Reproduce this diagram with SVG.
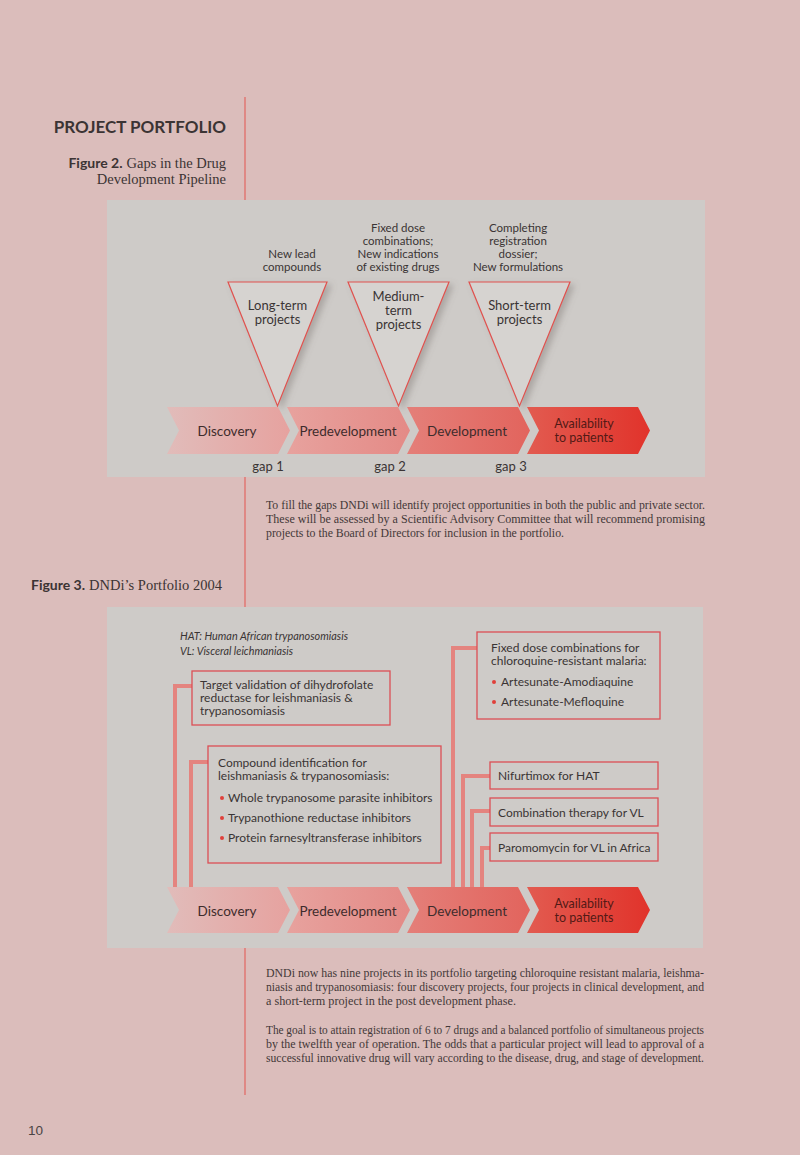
<svg xmlns="http://www.w3.org/2000/svg" width="800" height="1155" viewBox="0 0 800 1155">
<style>
.bg{fill:#dbbdbb}
.panel{fill:#cecbc8}
.vline{stroke:#e07b78;stroke-width:1.6;fill:none}
.head{font-family:Lato,"Liberation Sans",sans-serif;font-weight:bold;font-size:17px;fill:#3b3434}
.figb{font-family:Lato,"Liberation Sans",sans-serif;font-weight:bold;font-size:14px;fill:#3b3434}
.figs{font-family:"Liberation Serif",serif;font-size:14.5px;fill:#3b3434}
.lbl{font-family:Lato,"Open Sans",sans-serif;font-size:11.5px;fill:#3a3434}
.mid{text-anchor:middle}
.end{text-anchor:end}
.tri{fill:#d6d3d0;stroke:#e0524f;stroke-width:1.2}
.tlbl{font-family:Lato,"Open Sans",sans-serif;font-size:13px;fill:#3a3434;text-anchor:middle}
.chv{font-family:Lato,"Open Sans",sans-serif;font-size:13.5px;fill:#3e2c2c;text-anchor:middle}
.chva{font-family:Lato,"Open Sans",sans-serif;font-size:12.5px;fill:#521a16;text-anchor:middle}
.para{font-family:"Liberation Serif",serif;font-size:12.5px;fill:#433838}
.box{fill:none;stroke:#dc4f55;stroke-width:1.3}
.conn{fill:none;stroke:#e4847f;stroke-width:4}
.btxt{font-family:Lato,"Open Sans",sans-serif;font-size:12px;fill:#3a3434}
.ital{font-family:Lato,"Open Sans",sans-serif;font-size:12px;font-style:italic;fill:#3a3434}
.dot{fill:#e0403a}
.pg{font-family:"Liberation Sans",Arial,sans-serif;font-size:13.5px;fill:#4a4444}
</style>
<defs>
<linearGradient id="g1" x1="0" y1="0" x2="1" y2="0"><stop offset="0" stop-color="#e1bcba"/><stop offset="1" stop-color="#e6a29f"/></linearGradient>
<linearGradient id="g2" x1="0" y1="0" x2="1" y2="0"><stop offset="0" stop-color="#e7a29e"/><stop offset="1" stop-color="#e48a86"/></linearGradient>
<linearGradient id="g3" x1="0" y1="0" x2="1" y2="0"><stop offset="0" stop-color="#e47f79"/><stop offset="1" stop-color="#e2645d"/></linearGradient>
<linearGradient id="g4" x1="0" y1="0" x2="1" y2="0"><stop offset="0" stop-color="#e25b50"/><stop offset="1" stop-color="#e1332b"/></linearGradient>
<filter id="sh" x="-20%" y="-20%" width="150%" height="150%"><feDropShadow dx="4" dy="3" stdDeviation="3" flood-color="#6a6260" flood-opacity="0.35"/></filter>
</defs>

<rect class="bg" x="0" y="0" width="800" height="1155"/>
<line class="vline" x1="245" y1="97" x2="245" y2="1095"/>

<g id="header">
<text class="head end" x="226" y="133">PROJECT PORTFOLIO</text>
<text class="end" x="226" y="168"><tspan class="figb">Figure 2.</tspan><tspan class="figs" dx="4">Gaps in the Drug</tspan></text>
<text class="figs end" x="226" y="184">Development Pipeline</text>
</g>

<rect class="panel" x="107" y="200" width="598" height="277"/>

<g id="col-headers">
<text class="lbl mid" x="292" y="258">New lead</text>
<text class="lbl mid" x="292" y="271">compounds</text>
<text class="lbl mid" x="398" y="232">Fixed dose</text>
<text class="lbl mid" x="398" y="245">combinations;</text>
<text class="lbl mid" x="398" y="258">New indications</text>
<text class="lbl mid" x="398" y="271">of existing drugs</text>
<text class="lbl mid" x="518" y="232">Completing</text>
<text class="lbl mid" x="518" y="245">registration</text>
<text class="lbl mid" x="518" y="258">dossier;</text>
<text class="lbl mid" x="518" y="271">New formulations</text>
</g>

<g id="tri-long">
<polygon class="tri" filter="url(#sh)" points="228,282 327,282 277.5,406"/>
<text class="tlbl" x="277.5" y="310">Long-term</text>
<text class="tlbl" x="277.5" y="324">projects</text>
</g>
<g id="tri-medium">
<polygon class="tri" filter="url(#sh)" points="348,282 449,282 398.5,406"/>
<text class="tlbl" x="398.5" y="301">Medium-</text>
<text class="tlbl" x="398.5" y="315">term</text>
<text class="tlbl" x="398.5" y="329">projects</text>
</g>
<g id="tri-short">
<polygon class="tri" filter="url(#sh)" points="469,282 570,282 519.5,406"/>
<text class="tlbl" x="519.5" y="310">Short-term</text>
<text class="tlbl" x="519.5" y="324">projects</text>
</g>

<g id="pipe1-discovery">
<polygon fill="url(#g1)" points="167,407 278,407 290,430.5 278,454 167,454 179,430.5"/>
<text class="chv" x="227" y="436">Discovery</text>
</g>
<g id="pipe1-predevelopment">
<polygon fill="url(#g2)" points="287,407 398,407 410,430.5 398,454 287,454 299,430.5"/>
<text class="chv" x="348" y="436">Predevelopment</text>
</g>
<g id="pipe1-development">
<polygon fill="url(#g3)" points="407,407 518,407 530,430.5 518,454 407,454 419,430.5"/>
<text class="chv" x="467" y="436">Development</text>
</g>
<g id="pipe1-availability">
<polygon fill="url(#g4)" points="527,407 638,407 650,430.5 638,454 527,454 539,430.5"/>
<text class="chva" x="584" y="428">Availability</text>
<text class="chva" x="584" y="442">to patients</text>
</g>
<g id="gaps">
<text class="tlbl" x="268" y="471">gap 1</text>
<text class="tlbl" x="390" y="471">gap 2</text>
<text class="tlbl" x="511" y="471">gap 3</text>
</g>

<g id="para1">
<text class="para" x="266" y="509" textLength="439" lengthAdjust="spacingAndGlyphs">To fill the gaps DNDi will identify project opportunities in both the public and private sector.</text>
<text class="para" x="266" y="523" textLength="439" lengthAdjust="spacingAndGlyphs">These will be assessed by a Scientific Advisory Committee that will recommend promising</text>
<text class="para" x="266" y="537" textLength="298" lengthAdjust="spacingAndGlyphs">projects to the Board of Directors for inclusion in the portfolio.</text>
</g>

<g id="fig3-title">
<text class="end" x="222" y="590"><tspan class="figb">Figure 3.</tspan><tspan class="figs" dx="4">DNDi’s Portfolio 2004</tspan></text>
</g>

<rect class="panel" x="107" y="607" width="596" height="341"/>

<g id="legend">
<text class="ital" x="180" y="640" textLength="168" lengthAdjust="spacingAndGlyphs">HAT: Human African trypanosomiasis</text>
<text class="ital" x="180" y="655" textLength="113" lengthAdjust="spacingAndGlyphs">VL: Visceral leichmaniasis</text>
</g>

<g id="connectors">
<path class="conn" d="M192 686 H175 V887"/>
<path class="conn" d="M208 762 H191 V887"/>
<path class="conn" d="M477 648 H453 V887"/>
<path class="conn" d="M490 776 H463 V887"/>
<path class="conn" d="M490 811 H472 V887"/>
<path class="conn" d="M490 848 H482 V887"/>
</g>

<g id="box-target">
<rect class="box" x="192" y="671" width="198" height="54"/>
<text class="btxt" x="200" y="689">Target validation of dihydrofolate</text>
<text class="btxt" x="200" y="702">reductase for leishmaniasis &amp;</text>
<text class="btxt" x="200" y="715">trypanosomiasis</text>
</g>

<g id="box-fixed-dose">
<rect class="box" x="477" y="632" width="183" height="87"/>
<text class="btxt" x="491" y="652">Fixed dose combinations for</text>
<text class="btxt" x="491" y="665">chloroquine-resistant malaria:</text>
<circle class="dot" cx="494" cy="682" r="2"/>
<text class="btxt" x="501" y="686">Artesunate-Amodiaquine</text>
<circle class="dot" cx="494" cy="702" r="2"/>
<text class="btxt" x="501" y="706">Artesunate-Mefloquine</text>
</g>

<g id="box-compound">
<rect class="box" x="208" y="746" width="233" height="117"/>
<text class="btxt" x="218" y="767">Compound identification for</text>
<text class="btxt" x="218" y="780">leishmaniasis &amp; trypanosomiasis:</text>
<circle class="dot" cx="222" cy="798" r="2"/>
<text class="btxt" x="228" y="802">Whole trypanosome parasite inhibitors</text>
<circle class="dot" cx="222" cy="818" r="2"/>
<text class="btxt" x="228" y="822">Trypanothione reductase inhibitors</text>
<circle class="dot" cx="222" cy="838" r="2"/>
<text class="btxt" x="228" y="842">Protein farnesyltransferase inhibitors</text>
</g>

<g id="box-nifurtimox">
<rect class="box" x="490" y="762" width="168" height="27"/>
<text class="btxt" x="498" y="780">Nifurtimox for HAT</text>
</g>
<g id="box-combination">
<rect class="box" x="490" y="798" width="168" height="28"/>
<text class="btxt" x="498" y="817">Combination therapy for VL</text>
</g>
<g id="box-paromomycin">
<rect class="box" x="490" y="833" width="168" height="28"/>
<text class="btxt" x="498" y="852">Paromomycin for VL in Africa</text>
</g>

<g id="pipe2-discovery">
<polygon fill="url(#g1)" points="167,887 278,887 290,910 278,933 167,933 179,910"/>
<text class="chv" x="227" y="916">Discovery</text>
</g>
<g id="pipe2-predevelopment">
<polygon fill="url(#g2)" points="287,887 398,887 410,910 398,933 287,933 299,910"/>
<text class="chv" x="348" y="916">Predevelopment</text>
</g>
<g id="pipe2-development">
<polygon fill="url(#g3)" points="407,887 518,887 530,910 518,933 407,933 419,910"/>
<text class="chv" x="467" y="916">Development</text>
</g>
<g id="pipe2-availability">
<polygon fill="url(#g4)" points="527,887 638,887 650,910 638,933 527,933 539,910"/>
<text class="chva" x="584" y="908">Availability</text>
<text class="chva" x="584" y="922">to patients</text>
</g>

<g id="para2">
<text class="para" x="266" y="977" textLength="438" lengthAdjust="spacingAndGlyphs">DNDi now has nine projects in its portfolio targeting chloroquine resistant malaria, leishma-</text>
<text class="para" x="266" y="991" textLength="438" lengthAdjust="spacingAndGlyphs">niasis and trypanosomiasis: four discovery projects, four projects in clinical development, and</text>
<text class="para" x="266" y="1005" textLength="250" lengthAdjust="spacingAndGlyphs">a short-term project in the post development phase.</text>
</g>
<g id="para3">
<text class="para" x="266" y="1034" textLength="438" lengthAdjust="spacingAndGlyphs">The goal is to attain registration of 6 to 7 drugs and a balanced portfolio of simultaneous projects</text>
<text class="para" x="266" y="1048" textLength="438" lengthAdjust="spacingAndGlyphs">by the twelfth year of operation. The odds that a particular project will lead to approval of a</text>
<text class="para" x="266" y="1062" textLength="438" lengthAdjust="spacingAndGlyphs">successful innovative drug will vary according to the disease, drug, and stage of development.</text>
</g>

<g id="page-number">
<text class="pg" x="28" y="1135">10</text>
</g>
</svg>
